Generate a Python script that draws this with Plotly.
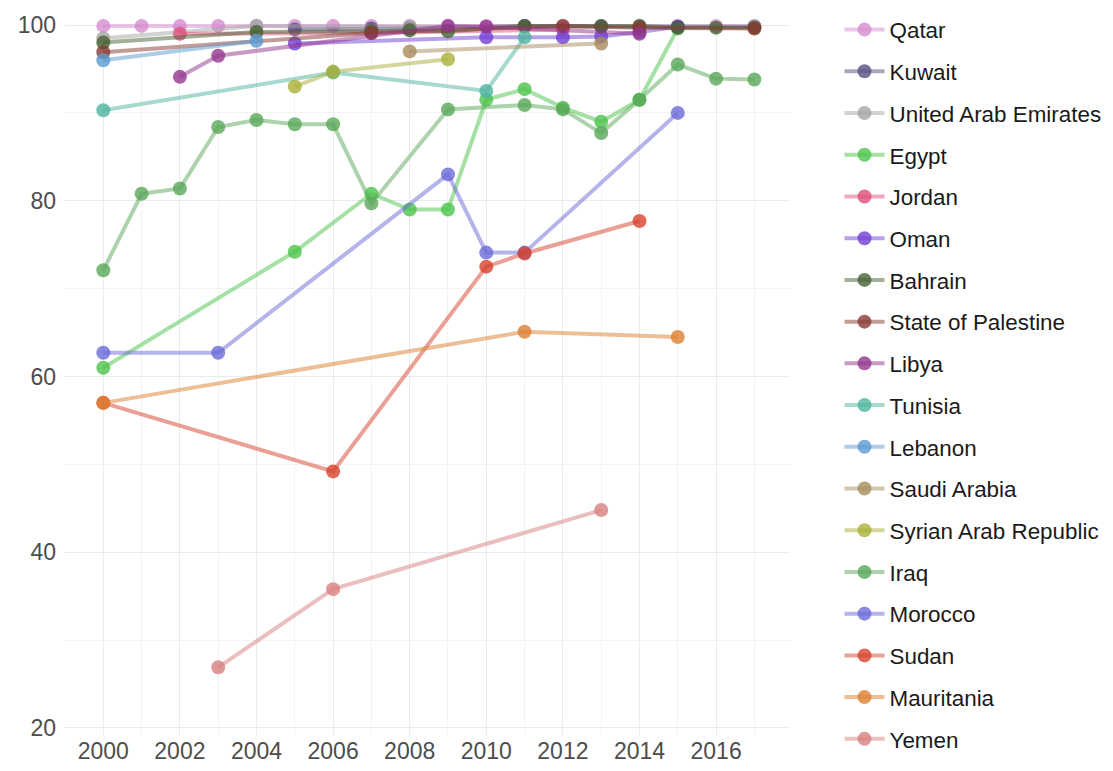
import plotly.graph_objects as go

# ── Data (share of population, %) ──────────────────────────────────────────
COUNTRIES = [
    "Qatar", "Kuwait", "United Arab Emirates", "Egypt", "Jordan", "Oman",
    "Bahrain", "State of Palestine", "Libya", "Tunisia", "Lebanon",
    "Saudi Arabia", "Syrian Arab Republic", "Iraq", "Morocco", "Sudan",
    "Mauritania", "Yemen",
]

qatar_years = [2000, 2001, 2002, 2003, 2004, 2005, 2006, 2007, 2008, 2009,
               2010, 2011, 2012, 2013, 2014, 2015, 2016, 2017]
qatar_vals = [99.9, 99.9, 99.9, 99.9, 99.9, 99.9, 99.9, 99.9, 99.9, 99.9,
              99.9, 99.9, 99.9, 99.9, 99.9, 99.9, 99.9, 99.9]

kuwait_years = [2005, 2007, 2008, 2011, 2013, 2015, 2017]
kuwait_vals = [99.5, 99.6, 99.6, 99.9, 99.8, 99.8, 99.8]

uae_years = [2000, 2004, 2008, 2014, 2017]
uae_vals = [98.5, 99.9, 99.8, 99.8, 99.8]

egypt_years = [2000, 2005, 2007, 2008, 2009, 2010, 2011, 2012, 2013, 2014, 2015]
egypt_vals = [61.0, 74.2, 80.8, 79.0, 79.0, 91.5, 92.7, 90.6, 89.0, 91.5, 99.6]

jordan_years = [2002, 2007, 2012]
jordan_vals = [99.0, 99.1, 99.5]

oman_years = [2005, 2010, 2012, 2013, 2014, 2015]
oman_vals = [97.9, 98.6, 98.6, 98.7, 99.2, 99.8]

bahrain_years = [2000, 2004, 2007, 2008, 2009, 2011, 2013, 2014, 2015, 2016, 2017]
bahrain_vals = [98.0, 99.2, 99.3, 99.4, 99.3, 99.9, 99.9, 99.9, 99.7, 99.7, 99.7]

palestine_years = [2000, 2007, 2012, 2014, 2017]
palestine_vals = [96.9, 99.1, 99.9, 99.7, 99.6]

libya_years = [2002, 2003, 2009, 2010, 2014]
libya_vals = [94.1, 96.5, 99.9, 99.8, 99.0]

tunisia_years = [2000, 2006, 2010, 2011]
tunisia_vals = [90.3, 94.6, 92.5, 98.6]

lebanon_years = [2000, 2004]
lebanon_vals = [96.0, 98.2]

saudi_years = [2008, 2013]
saudi_vals = [97.0, 97.9]

syria_years = [2005, 2006, 2009]
syria_vals = [93.0, 94.7, 96.1]

iraq_years = [2000, 2001, 2002, 2003, 2004, 2005, 2006, 2007, 2009, 2011,
              2012, 2013, 2014, 2015, 2016, 2017]
iraq_vals = [72.1, 80.8, 81.4, 88.4, 89.2, 88.7, 88.7, 79.7, 90.4, 90.9,
             90.4, 87.7, 91.5, 95.5, 93.9, 93.8]

morocco_years = [2000, 2003, 2009, 2010, 2011, 2015]
morocco_vals = [62.7, 62.7, 83.0, 74.1, 74.1, 90.0]

sudan_years = [2000, 2006, 2010, 2011, 2014]
sudan_vals = [57.0, 49.2, 72.5, 74.0, 77.7]

mauritania_years = [2000, 2011, 2015]
mauritania_vals = [57.0, 65.1, 64.5]

yemen_years = [2003, 2006, 2013]
yemen_vals = [26.9, 35.8, 44.8]

# ── Colours (rgb) ──────────────────────────────────────────────────────────
COLORS = [
    (214, 140, 208), (88, 80, 130), (165, 165, 165), (76, 196, 76),
    (224, 80, 122), (112, 64, 212), (70, 98, 50), (136, 58, 50),
    (147, 52, 142), (80, 180, 160), (90, 154, 210), (168, 140, 92),
    (170, 176, 58), (90, 168, 90), (106, 106, 216), (216, 66, 44),
    (220, 128, 48), (216, 128, 128),
]

SERIES = [
    (qatar_years, qatar_vals), (kuwait_years, kuwait_vals),
    (uae_years, uae_vals), (egypt_years, egypt_vals),
    (jordan_years, jordan_vals), (oman_years, oman_vals),
    (bahrain_years, bahrain_vals), (palestine_years, palestine_vals),
    (libya_years, libya_vals), (tunisia_years, tunisia_vals),
    (lebanon_years, lebanon_vals), (saudi_years, saudi_vals),
    (syria_years, syria_vals), (iraq_years, iraq_vals),
    (morocco_years, morocco_vals), (sudan_years, sudan_vals),
    (mauritania_years, mauritania_vals), (yemen_years, yemen_vals),
]

X_TICKS = list(range(2000, 2017, 2))
Y_TICKS = [20, 40, 60, 80, 100]


def rgba(c, a):
    return f"rgba({c[0]},{c[1]},{c[2]},{a})"


fig = go.Figure()
for i, (name, (xs, ys)) in enumerate(zip(COUNTRIES, SERIES)):
    c = COLORS[i]
    fig.add_trace(go.Scatter(
        x=xs, y=ys, name=name, mode="lines+markers",
        legendgroup=name,
        line=dict(color=rgba(c, 0.5), width=4),
        marker=dict(color=rgba(c, 0.8), size=14, line=dict(width=0)),
    ))

# page body has an 8px margin, so the figure is a little smaller than the window
grid = "#ebebeb"
fig.update_layout(
    width=1105, height=763,
    paper_bgcolor="white", plot_bgcolor="white",
    font=dict(family="Liberation Sans, Arial", color="#4d4d4d", size=23),
    margin=dict(l=57, r=323, t=10, b=36),
    showlegend=True,
    legend=dict(
        xref="container", yref="container",
        x=0.7525, y=0.9993, xanchor="left", yanchor="top",
        font=dict(size=22.4, color="#1a1a1a"),
        tracegroupgap=9.6, itemwidth=40, maxheight=763,
        bgcolor="rgba(0,0,0,0)",
    ),
    xaxis=dict(
        range=[1999.0, 2017.93], tickvals=X_TICKS, ticks="",
        showgrid=True, gridcolor=grid, gridwidth=1.2, zeroline=False,
        showline=False, automargin=False,
        minor=dict(dtick=1, tick0=2000, showgrid=True, gridcolor="#f3f3f3"),
    ),
    yaxis=dict(
        range=[19.2, 100.8], tickvals=Y_TICKS, ticks="",
        showgrid=True, gridcolor=grid, gridwidth=1.2, zeroline=False,
        showline=False, automargin=False, ticklabelstandoff=8,
        minor=dict(dtick=10, tick0=20, showgrid=True, gridcolor="#f3f3f3"),
    ),
)

fig.write_html("out.html")
